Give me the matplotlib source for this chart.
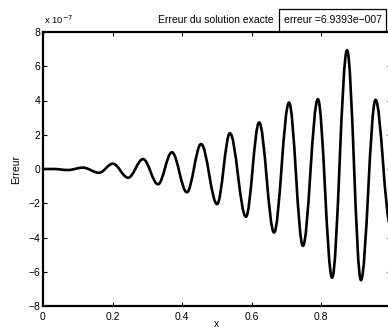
import numpy as np
import matplotlib
matplotlib.use("Agg")
import matplotlib.pyplot as plt
from matplotlib.path import Path
from matplotlib.patches import PathPatch, Rectangle

plt.rcParams['font.family'] = ['Liberation Sans', 'DejaVu Sans']

# extrema of the error curve (error in units of 1e-7)
x_pts = [0.0, 0.030, 0.072, 0.115, 0.161, 0.201, 0.245, 0.288, 0.331, 0.371,
         0.414, 0.455, 0.501, 0.538, 0.584, 0.622, 0.665, 0.708, 0.748, 0.791,
         0.832, 0.875, 0.915, 0.957, 1.0]
err_pts = [0.0, 0.0, -0.06, 0.08, -0.22, 0.31, -0.51, 0.58, -0.89, 0.98,
           -1.36, 1.46, -2.05, 2.09, -2.79, 2.72, -3.71, 3.88, -4.49, 4.08,
           -6.35, 6.9393, -6.49, 4.04, -3.3]
xticks = [0, 0.2, 0.4, 0.6, 0.8, 1.0]
xticklabels = ['0', '0.2', '0.4', '0.6', '0.8', '']
yticks = [-8, -6, -4, -2, 0, 2, 4, 6, 8]
max_err = "6.9393e\u2212007"

fig = plt.figure(figsize=[3.88, 3.33], dpi=100)
ax = fig.add_axes([43/388, 27/333, (390.5-43)/388, (306-32)/333])

# smooth curve: cubic Bezier between successive extrema, flat tangent at each one
verts = [(x_pts[0], err_pts[0])]
codes = [Path.MOVETO]
for i in range(len(x_pts)-1):
    dx = x_pts[i+1]-x_pts[i]
    verts += [(x_pts[i]+0.36*dx, err_pts[i]), (x_pts[i+1]-0.36*dx, err_pts[i+1]), (x_pts[i+1], err_pts[i+1])]
    codes += [Path.CURVE4]*3
ax.add_patch(PathPatch(Path(verts, codes), fill=False, lw=1.9, edgecolor='k', capstyle='round', joinstyle='round'))

ax.set_xlim(0, 1)
ax.set_ylim(-8, 8)
ax.set_xticks(xticks)
ax.set_xticklabels(xticklabels)
ax.set_yticks(yticks)
ax.tick_params(direction='in', length=3, width=0.8, top=True, right=True, labelsize=7.5)
ax.tick_params(axis='x', pad=4)
ax.tick_params(axis='y', pad=2)
for s in ax.spines.values():
    s.set_linewidth(1.6)
ax.set_xlabel('x', fontsize=7.5, labelpad=-2)
ax.set_ylabel('Erreur', fontsize=7.5, labelpad=5)

fig.text(44/388, 1-24/333, r'x 10$^{-7}$', fontsize=6.8, va='baseline')
fig.text(216/388, 1-23/333, 'Erreur du solution exacte', fontsize=7.5, ha='center', va='baseline')
# legend-like box holding the max error
fig.add_artist(Rectangle((279/388, 1-31/333), 107/388, 22/333, transform=fig.transFigure,
                         fc='white', ec='k', lw=0.9))
fig.text(333/388, 1-23/333, 'erreur =' + max_err, fontsize=7.5, ha='center', va='baseline')

fig.savefig('out.png', dpi=100)
